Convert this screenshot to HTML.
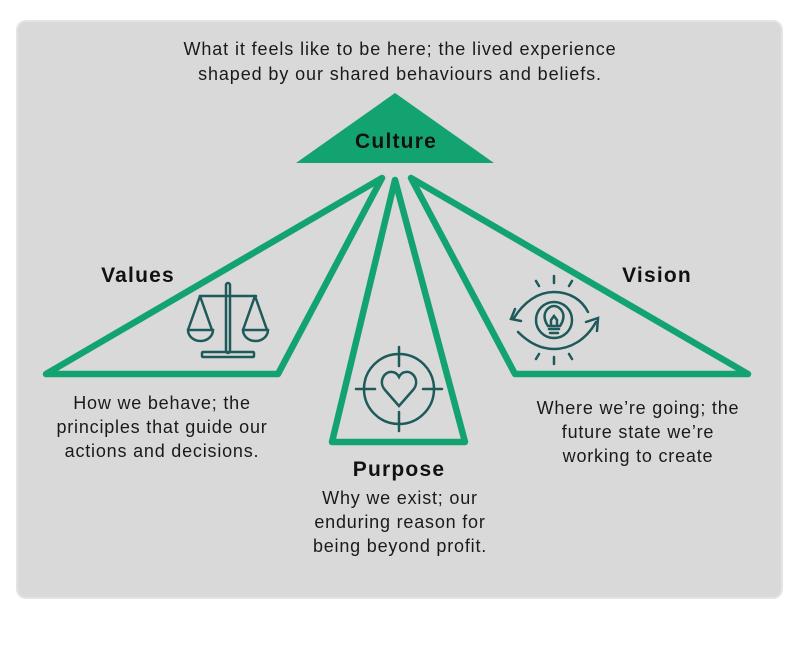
<!DOCTYPE html>
<html><head><meta charset="utf-8"><style>
body{margin:0;background:#fff;width:799px;height:670px;overflow:hidden}
svg{display:block}
text{font-family:"Liberation Sans",sans-serif}
</style></head><body>
<svg width="799" height="670" viewBox="0 0 799 670">
<rect x="17" y="21" width="765" height="577" rx="9" fill="#d9d9d9" stroke="#e4e4e4" stroke-width="2"/>
<g font-size="18" letter-spacing="0.9" fill="#1a1a1a" text-anchor="middle">
<text x="400" y="55">What it feels like to be here; the lived experience</text>
<text x="400" y="80">shaped by our shared behaviours and beliefs.</text>
</g>
<polygon points="395,93 296,163 494,163" fill="#12a370"/>
<text x="396" y="148" font-size="21" letter-spacing="1.2" font-weight="bold" text-anchor="middle" fill="#111">Culture</text>
<g fill="none" stroke="#12a370" stroke-width="6.5" stroke-linejoin="round">
<polygon points="382,178 46,374 278,374"/>
<polygon points="395,180 332,442 465,442"/>
<polygon points="411,178 748,374 515,374"/>
</g>
<g font-size="21" letter-spacing="1.2" font-weight="bold" fill="#111" text-anchor="middle">
<text x="138" y="282">Values</text>
<text x="657" y="282">Vision</text>
<text x="399" y="476">Purpose</text>
</g>
<g font-size="18" letter-spacing="0.8" fill="#1a1a1a" text-anchor="middle">
<text x="162" y="409">How we behave; the</text>
<text x="162" y="433">principles that guide our</text>
<text x="162" y="457">actions and decisions.</text>
<text x="638" y="414">Where we’re going; the</text>
<text x="638" y="438">future state we’re</text>
<text x="638" y="462">working to create</text>
<text x="400" y="504">Why we exist; our</text>
<text x="400" y="528">enduring reason for</text>
<text x="400" y="552">being beyond profit.</text>
</g>
<g fill="none" stroke="#1e5a5a" stroke-width="2.5" stroke-linecap="round">
<!-- scales -->
<rect x="226" y="283" width="4" height="70" rx="2"/>
<line x1="200" y1="296" x2="256" y2="296"/>
<rect x="202" y="352" width="52" height="5" rx="1"/>
<path d="M200,296 L188,330 M200,296 L212,330 M188,330 H213 A12.5,11 0 0 1 188,330Z"/>
<path d="M255,296 L243,330 M255,296 L267,330 M243,330 H268 A12.5,11 0 0 1 243,330Z"/>
<!-- target -->
<circle cx="399" cy="389" r="35"/>
<path d="M399,347 V366 M399,412 V431 M356,389 H375 M423,389 H442"/>
<path d="M399,406 L385,390 C378,382 384,371 392,372 C396,372 398,375 399,377 C400,375 402,372 406,372 C414,371 420,382 413,390Z"/>
<!-- eye -->
<circle cx="554" cy="320" r="18"/>
<path d="M548,326 C540,314 548,306 554,306 C560,306 568,314 560,326Z M549,329 H559 M550,333 H558 M551,326 V320 M557,326 V320 M551,320 L554,316 L557,320"/>
<path d="M514,318 C524,302 538,292 554,292 C570,292 582,300 588,312"/>
<path d="M521,321 L511,319 L515,309"/>
<path d="M596,322 C586,340 570,349 554,349 C538,349 526,340 518,332"/>
<path d="M586,322 L598,318 L597,331"/>
<path d="M554,276 V283 M536,281 L539,286 M572,281 L569,286 M554,357 V364 M536,359 L539,354 M572,359 L569,354"/>
</g>
</svg>
</body></html>
